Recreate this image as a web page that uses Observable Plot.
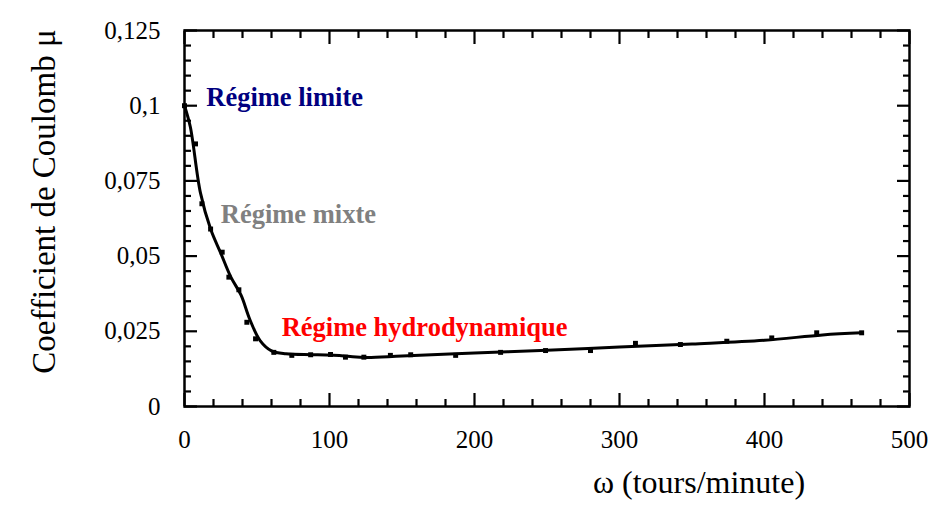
<!DOCTYPE html>
<html>
<head>
<meta charset="utf-8">
<script src="https://cdn.jsdelivr.net/npm/d3@7"></script>
<script src="https://cdn.jsdelivr.net/npm/@observablehq/plot@0.6"></script>
<style>
  html, body { margin: 0; padding: 0; background: white; }
</style>
</head>
<body>
<div id="chart"></div>
<script>
// Measured points (square markers)
const omegaPoints = [0, 7.6, 12, 18, 26, 30.6, 37.5, 43, 49, 61.6, 74, 87, 100.7, 111, 123.7, 142, 156, 187, 218, 249, 280, 311, 342, 374, 405, 436, 467];
const muPoints = [0.1, 0.0873, 0.0674, 0.059, 0.0513, 0.043, 0.0388, 0.028, 0.0225, 0.018, 0.017, 0.0172, 0.0173, 0.0164, 0.0164, 0.017, 0.0172, 0.017, 0.018, 0.0186, 0.0186, 0.021, 0.0206, 0.0217, 0.0228, 0.0245, 0.0245];

// Smooth fitted curve
const omegaCurve = [0, 4, 11, 18, 25, 32, 39, 45, 52, 60, 70, 90, 110, 125, 150, 200, 250, 300, 350, 400, 440, 467];
const muCurve = [0.1, 0.093, 0.071, 0.059, 0.051, 0.043, 0.037, 0.029, 0.022, 0.0185, 0.0175, 0.0172, 0.0168, 0.0163, 0.0168, 0.0178, 0.0187, 0.0198, 0.0208, 0.022, 0.0238, 0.0245];

// Axis ticks and labels
const xMajorTicks = [0, 100, 200, 300, 400, 500];
const xTickLabels = ["0", "100", "200", "300", "400", "500"];
const xMinorTicks = [20, 40, 60, 80, 120, 140, 160, 180, 220, 240, 260, 280, 320, 340, 360, 380, 420, 440, 460, 480];
const yMajorTicks = [0, 0.025, 0.05, 0.075, 0.1, 0.125];
const yTickLabels = ["0", "0,025", "0,05", "0,075", "0,1", "0,125"];
const yMinorTicks = [0.005, 0.01, 0.015, 0.02, 0.03, 0.035, 0.04, 0.045, 0.055, 0.06, 0.065, 0.07, 0.08, 0.085, 0.09, 0.095, 0.105, 0.11, 0.115, 0.12];

// Annotations
const regimeLabels = ["Régime limite", "Régime mixte", "Régime hydrodynamique"];
const regimeX = [15, 25, 67];
const regimeY = [0.1027, 0.0638, 0.0263];
const regimeColors = ["#00007f", "#808080", "#ff0000"];

const xTitle = "ω (tours/minute)";
const yTitle = "Coefficient de Coulomb μ";

const points = omegaPoints.map((x, i) => ({x, mu: muPoints[i]}));
const curve = omegaCurve.map((x, i) => ({x, mu: muCurve[i]}));
const regimes = regimeLabels.map((t, i) => ({t, x: regimeX[i], mu: regimeY[i], c: regimeColors[i]}));
const xLab = new Map(xMajorTicks.map((v, i) => [v, xTickLabels[i]]));
const yLab = new Map(yMajorTicks.map((v, i) => [v, yTickLabels[i]]));

const font = "'Liberation Serif', 'Times New Roman', serif";

const chart = Plot.plot({
  width: 930,
  height: 507,
  marginLeft: 184,
  marginRight: 21,
  marginTop: 30,
  marginBottom: 101,
  x: {domain: [0, 500]},
  y: {domain: [0, 0.125]},
  style: {background: "white", fontFamily: font, color: "black"},
  marks: [
    // tick marks (inward) on all four sides
    Plot.axisX({anchor: "bottom", ticks: xMinorTicks, tickSize: -7, text: null, label: null, strokeWidth: 2.2}),
    Plot.axisX({anchor: "bottom", ticks: xMajorTicks, tickSize: -13, text: null, label: null, strokeWidth: 2.2}),
    Plot.axisX({anchor: "top", ticks: xMinorTicks, tickSize: -7, text: null, label: null, strokeWidth: 2.2}),
    Plot.axisX({anchor: "top", ticks: xMajorTicks, tickSize: -13, text: null, label: null, strokeWidth: 2.2}),
    Plot.axisY({anchor: "left", ticks: yMinorTicks, tickSize: -7, text: null, label: null, strokeWidth: 2.2}),
    Plot.axisY({anchor: "left", ticks: yMajorTicks, tickSize: -13, text: null, label: null, strokeWidth: 2.2}),
    Plot.axisY({anchor: "right", ticks: yMinorTicks, tickSize: -7, text: null, label: null, strokeWidth: 2.2}),
    Plot.axisY({anchor: "right", ticks: yMajorTicks, tickSize: -13, text: null, label: null, strokeWidth: 2.2}),
    // tick labels
    Plot.axisX({anchor: "bottom", ticks: xMajorTicks, tickSize: 0, tickPadding: 24, tickFormat: d => xLab.get(d), label: null, fontSize: 25, fill: "black"}),
    Plot.axisY({anchor: "left", ticks: yMajorTicks, tickSize: 0, tickPadding: 24, tickFormat: d => yLab.get(d), label: null, fontSize: 25, fill: "black"}),
    Plot.frame({stroke: "black", strokeWidth: 2.5}),
    // curve and markers
    Plot.line(curve, {x: "x", y: "mu", curve: "catmull-rom", stroke: "black", strokeWidth: 3}),
    Plot.dot(points, {x: "x", y: "mu", symbol: "square", r: 2.8, fill: "black"}),
    // regime annotations
    Plot.text(regimes, {x: "x", y: "mu", text: "t", fill: "c", textAnchor: "start", fontWeight: "bold", fontSize: 26.5, fontFamily: font}),
    // axis titles
    Plot.text([xTitle], {frameAnchor: "bottom", textAnchor: "middle", dx: 152, dy: 86, fontSize: 32, fontFamily: font, fill: "black"}),
    Plot.text([yTitle], {frameAnchor: "left", textAnchor: "middle", dx: -140, dy: -17, rotate: -90, fontSize: 33, fontFamily: font, fill: "black"})
  ]
});
document.getElementById("chart").append(chart);
</script>
</body>
</html>
